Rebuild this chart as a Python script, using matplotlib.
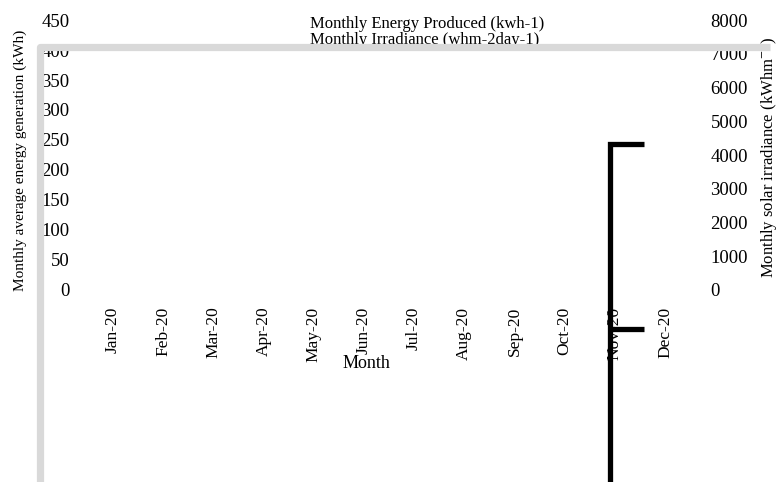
import numpy as np
import matplotlib
matplotlib.use("Agg")
import matplotlib.pyplot as plt

plt.rcParams['font.family'] = ['Liberation Serif', 'DejaVu Serif']
plt.rcParams['mathtext.fontset'] = 'stix'

# categories and axis ticks
months = ['Jan-20', 'Feb-20', 'Mar-20', 'Apr-20', 'May-20', 'Jun-20',
          'Jul-20', 'Aug-20', 'Sep-20', 'Oct-20', 'Nov-20', 'Dec-20']
energy_ticks = [0, 50, 100, 150, 200, 250, 300, 350, 400, 450]
irr_ticks = [0, 1000, 2000, 3000, 4000, 5000, 6000, 7000, 8000]

# the two series as they show up in the picture (x in month index units)
energy_x = [-1.455, -1.455, 13.1]
energy_y = [-340, 405.8, 405.8]
irr_x = [10.58, 9.90, 9.90, np.nan, 9.90, 10.58]
irr_y = [4326, 4326, -6000, np.nan, -1156, -1156]

W, H = 779, 482
fig = plt.figure(figsize=(W / 100, H / 100), dpi=100)
# axes box in pixels: left 75, right 705, top 20, bottom 290
ax = fig.add_axes([75 / W, (H - 290) / H, 630 / W, 270 / H])
ax.set_facecolor('none')
ax.set_xlim((75 - 113) / 50.18, (705 - 113) / 50.18)
ax.set_ylim(0, 450)
ax.set_xticks(range(len(months)))
ax.set_xticklabels(months, rotation=90, fontsize=12.5)
ax.set_yticks(energy_ticks)
ax.tick_params(axis='both', length=0, labelsize=13.5)
ax.tick_params(axis='x', pad=12, labelsize=12.5)
ax.tick_params(axis='y', pad=4)
for s in ax.spines.values():
    s.set_visible(False)
ax.set_ylabel('Monthly average energy generation (kWh)', fontsize=11, va='center')
ax.yaxis.set_label_coords((20 - 75) / 630, (290 - 160) / 270)
ax.set_xlabel('Month', fontsize=13, va='center')
ax.xaxis.set_label_coords((366 - 75) / 630, (290 - 364) / 270)

ax2 = ax.twinx()
ax2.set_ylim(0, 8000)
ax2.set_yticks(irr_ticks)
ax2.tick_params(axis='y', length=0, labelsize=13.5, pad=4)
for s in ax2.spines.values():
    s.set_visible(False)
ax2.set_ylabel('Monthly solar irradiance (kWhm$^{-2}$)', fontsize=12, va='center')
ax2.yaxis.set_label_coords((768 - 75) / 630, (290 - 157) / 270)

ax2.text(310 / W, 1 - 24 / H, 'Monthly Energy Produced (kwh-1)', transform=fig.transFigure,
         fontsize=12, va='center', ha='left', zorder=1)
ax2.text(310 / W, 1 - 40 / H, 'Monthly Irradiance (whm-2day-1)', transform=fig.transFigure,
         fontsize=12, va='center', ha='left', zorder=1)

ax2.plot(energy_x, energy_y, color='#d9d9d9', lw=5.2, transform=ax.transData,
         solid_joinstyle='round', solid_capstyle='butt', clip_on=False, zorder=3)
ax2.plot(irr_x, irr_y, color='black', lw=3.8, solid_joinstyle='miter',
         solid_capstyle='butt', clip_on=False, zorder=3)

fig.savefig('out.png', dpi=100)
